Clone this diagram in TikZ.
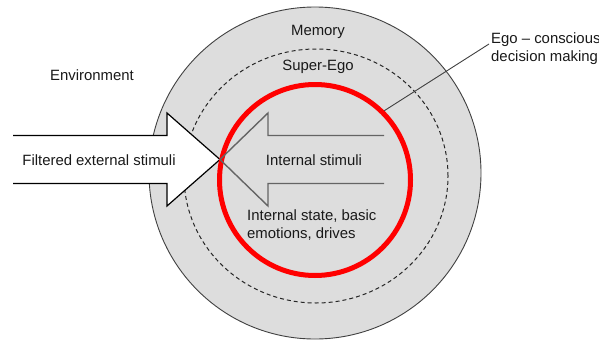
\documentclass[tikz,border=0pt]{standalone}
\usepackage{fontspec}
\setmainfont{Liberation Sans}
\usepackage{xcolor}
\usetikzlibrary{positioning, shapes.geometric}

\definecolor{memgray}{RGB}{221,221,221}
\definecolor{linegray}{RGB}{100,100,100}

\begin{document}
\begin{tikzpicture}[
    x=1pt, y=-1pt,
    every node/.style={font=\fontsize{14.9}{18}\selectfont, text=black!90},
    layer/.style={draw, inner sep=0pt, outer sep=0pt},
    lbl/.style={inner sep=0pt, align=#1},
    lbl/.default=center,
  ]
  \useasboundingbox (0,0) rectangle (599,340);

  % ---- Layers ----
  \node[layer, circle, fill=memgray, draw=black!75, line width=0.9pt, minimum size=332pt] (memory) at (315,173) {};
  \node[layer, ellipse, draw=black!85, line width=1pt, dash pattern=on 4pt off 3pt, minimum width=264pt, minimum height=254pt] (superego) at (316,176) {};

  % ---- External stimuli ----
  \draw[black, line width=1.2pt, fill=white] (13,135.5) -- (167,135.5) -- (167,113) -- (220,159.5)
    -- (167,206) -- (167,183.5) -- (13,183.5);

  % ---- Ego ----
  \node[layer, circle, draw=red, line width=5pt, minimum size=191pt, outer sep=2.5pt] (ego) at (315,180) {};

  % ---- Internal stimuli ----
  \draw[linegray, line width=1.4pt] (384,135.5) -- (268,135.5) -- (268,113) -- (220,159.5)
    -- (268,206) -- (268,183.5) -- (384,183.5);

  % ---- Labels ----
  \node[lbl] (memtxt) at (318,32) {Memory};
  \node[lbl] (setxt) at (318,67) {Super-Ego};
  \node[lbl] (envtxt) at (92,75) {Environment};
  \node[lbl] (exttxt) at (99,160) {Filtered external stimuli};
  \node[lbl] (inttxt) at (314,160) {Internal stimuli};
  \node[lbl=left, anchor=west] (statetxt) at (247,225) {Internal state, basic\\emotions, drives};
  \node[lbl=left, anchor=west] (egotxt) at (491,49) {Ego -- conscious\\decision making};
  \coordinate (egoend) at (489,44);

  \draw[black!75, line width=0.9pt] (ego.45) -- (egoend);

\end{tikzpicture}
\end{document}
